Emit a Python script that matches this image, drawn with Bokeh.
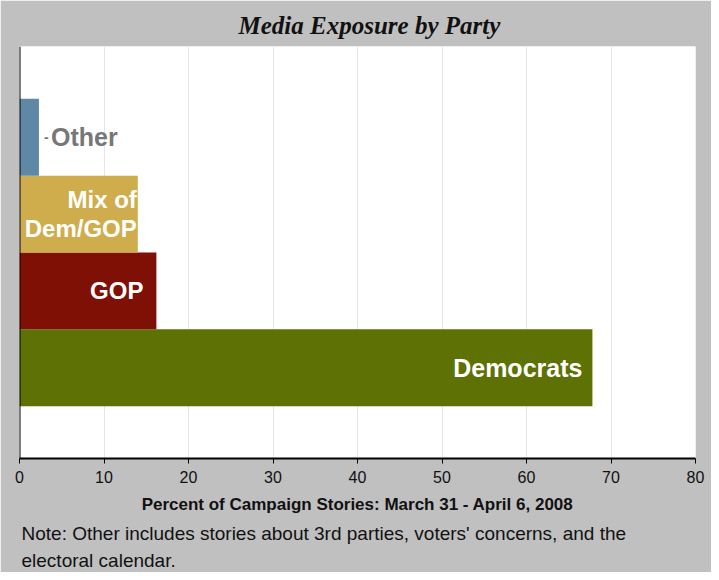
from bokeh.plotting import figure
from bokeh.models import FactorRange, Range1d, FixedTicker, Title, Span
from bokeh.core.properties import value
from bokeh.embed import file_html
from bokeh.resources import INLINE

# ---- data ----
categories = ["Democrats", "GOP", "Mix of Dem/GOP", "Other"]
values = [67.8, 16.2, 14.0, 2.3]
colors = ["#5d7104", "#7f1005", "#d0ad4c", "#5f87a6"]
x_ticks = [0, 10, 20, 30, 40, 50, 60, 70, 80]
title_text = "Media Exposure by Party"
x_label = "Percent of Campaign Stories: March 31 - April 6, 2008"
note_lines = ["Note: Other includes stories about 3rd parties, voters' concerns, and the",
              "electoral calendar."]

GRAY = "#c0c0c0"
SANS = "Liberation Sans"
SANS_V = value(SANS)

p = figure(width=711, height=572,
           x_range=Range1d(0, 80),
           y_range=FactorRange(factors=categories, range_padding=0.68,
                               range_padding_units="absolute"),
           output_backend="svg", toolbar_location=None,
           min_border_left=19, min_border_right=16,
           min_border_top=46, min_border_bottom=114)

p.border_fill_color = GRAY
p.background_fill_color = "white"
p.outline_line_color = None

# title
p.title.text = title_text
p.title.text_font = "Liberation Serif"
p.title.text_font_style = "bold italic"
p.title.text_font_size = "25px"
p.title.text_color = "#111111"
p.title.align = "left"
p.title.offset = 219
p.title.standoff = 16

# bars
p.hbar(y=categories, right=values, left=0, height=1.0,
       fill_color=colors, line_color=None)

# left axis line
p.add_layout(Span(location=0, dimension="height", line_color="black", line_width=2))

# bar labels
def bar_label(i, text, offset, color="white", align="right", size="24px"):
    p.text(x=[values[i]], y=[categories[i]], text=[text],
           text_align=align, text_baseline="middle",
           text_font=SANS_V, text_font_style="bold",
           text_font_size=size, text_color=color, x_offset=offset,
           text_line_height=1.1)

bar_label(0, categories[0], -10, size="25px")
bar_label(1, categories[1], -13)
bar_label(2, "Mix of\nDem/GOP", -1)
bar_label(3, "-", 5, color="#777777", align="left", size="14px")
bar_label(3, categories[3], 12, color="#777777", align="left", size="25px")

# axes
p.ygrid.grid_line_color = None
p.xgrid.grid_line_color = "#e6e6e6"
p.xgrid.grid_line_width = 1
p.yaxis.visible = False

p.xaxis.ticker = FixedTicker(ticks=x_ticks)
p.xaxis.minor_tick_line_color = None
p.xaxis.major_tick_in = 0
p.xaxis.major_tick_out = 5
p.xaxis.major_tick_line_color = "black"
p.xaxis.axis_line_color = "black"
p.xaxis.axis_line_width = 2
p.xaxis.major_label_text_font = SANS
p.xaxis.major_label_text_font_size = "16px"
p.xaxis.major_label_text_color = "#111111"
p.xaxis.major_label_standoff = 7
p.xaxis.axis_label = x_label
p.xaxis.axis_label_text_font = SANS
p.xaxis.axis_label_text_font_style = "bold"
p.xaxis.axis_label_text_font_size = "17px"
p.xaxis.axis_label_text_color = "#111111"
p.xaxis.axis_label_standoff = 9

for i, line in enumerate(note_lines):
    p.add_layout(Title(text=line, align="left", offset=2,
                       text_font=SANS, text_font_style="normal",
                       text_font_size="19px", text_color="#111111",
                       standoff=8 if i == 0 else 0), "below")

open("out.html", "w").write(file_html(p, INLINE))
